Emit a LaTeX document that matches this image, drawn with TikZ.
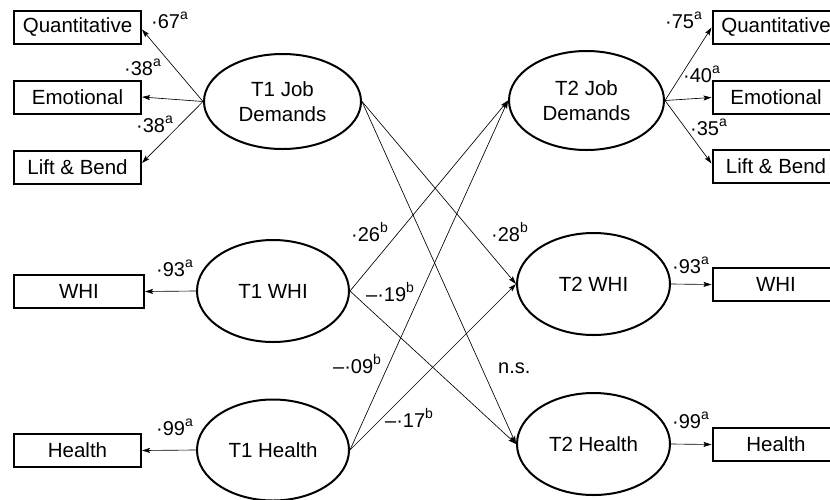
\documentclass[tikz,border=0pt]{standalone}
\usepackage{fontspec}
\setmainfont{Liberation Sans}
\usetikzlibrary{shapes.geometric,arrows.meta}
\newcommand\coefsup[2]{#1\raisebox{0.42em}{\fontsize{14}{14}\selectfont #2}}
\begin{document}
\begin{tikzpicture}[x=1pt,y=-1pt,
  obsbox/.style={draw, line width=2pt, minimum width=127pt, minimum height=33pt, inner sep=0pt, font=\fontsize{20.5}{25}\selectfont},
  latent/.style={draw, ellipse, line width=2pt, inner sep=0pt, align=center, font=\fontsize{20.5}{25}\selectfont},
  conn/.style={line width=0.65pt, -{Stealth[length=8pt,width=5pt,inset=1.5pt]}},
  coef/.style={font=\fontsize{20}{24}\selectfont, anchor=base west, inner sep=0pt}]
\useasboundingbox (0,0) rectangle (830,499);
\clip (0,0) rectangle (830,499);
% left observed
\node[obsbox] (LQ) at (77.5,27.5) {Quantitative};
\node[obsbox] (LE) at (77.5,97) {Emotional};
\node[obsbox] (LL) at (77.5,167) {Lift \& Bend};
\node[obsbox, minimum width=130pt] (LW) at (79,291.5) {WHI};
\node[obsbox] (LH) at (77.5,450.5) {Health};
% right observed
\node[obsbox] (RQ) at (776,27.5) {Quantitative};
\node[obsbox] (RE) at (776,97.5) {Emotional\hspace{12pt}};
\node[obsbox] (RL) at (776,166.5) {Lift \& Bend\hspace{12pt}};
\node[obsbox] (RW) at (776,284.5) {WHI};
\node[obsbox] (RH) at (776,444.5) {Health\hspace{6pt}};
% latent
\node[latent, minimum width=157pt, minimum height=95pt] (J1) at (282.5,101.5) {T1 Job\\Demands};
\node[latent, minimum width=152pt, minimum height=102pt] (W1) at (273,291) {T1 WHI};
\node[latent, minimum width=152pt, minimum height=101pt] (H1) at (273,450) {T1 Health};
\node[latent, minimum width=155pt, minimum height=99pt] (J2) at (586.5,100.5) {T2 Job\\Demands};
\node[latent, minimum width=153pt, minimum height=102pt] (W2) at (593.5,284) {T2 WHI};
\node[latent, minimum width=153pt, minimum height=102pt] (H2) at (593.5,444) {T2 Health};
% measurement paths left
\draw[conn] (J1.west) -- ([yshift=-2pt]LQ.east);
\draw[conn] (J1.west) -- (LE.east);
\draw[conn] (J1.west) -- ([yshift=4pt]LL.east);
\draw[conn] (W1.west) -- (LW.east);
\draw[conn] (H1.west) -- (LH.east);
% measurement paths right
\draw[conn] (J2.east) -- (RQ.west);
\draw[conn] (J2.east) -- (RE.west);
\draw[conn] (J2.east) -- ([yshift=3pt]RL.west);
\draw[conn] (W2.east) -- (RW.west);
\draw[conn] (H2.east) -- (RH.west);
% structural paths
\draw[conn] (J1.east) -- (W2.west);
\draw[conn] (J1.east) -- (H2.west);
\draw[conn] (W1.east) -- (J2.west);
\draw[conn] (W1.east) -- (H2.west);
\draw[conn] (H1.east) -- (J2.west);
\draw[conn] (H1.east) -- (W2.west);
% coefficients
\node[coef] (c1) at (151,28) {\coefsup{·67}{a}};
\node[coef] (c2) at (124,75) {\coefsup{·38}{a}};
\node[coef] (c3) at (136,132) {\coefsup{·38}{a}};
\node[coef] (c4) at (156,276) {\coefsup{·93}{a}};
\node[coef] (c5) at (156,435) {\coefsup{·99}{a}};
\node[coef] (c6) at (351,241) {\coefsup{·26}{b}};
\node[coef] (c7) at (366,301) {\coefsup{–·19}{b}};
\node[coef] (c8) at (491,241) {\coefsup{·28}{b}};
\node[coef] (c9) at (333,373) {\coefsup{–·09}{b}};
\node[coef] (c10) at (385,427) {\coefsup{–·17}{b}};
\node[coef] (c11) at (498,373) {n.s.};
\node[coef] (c12) at (665,28) {\coefsup{·75}{a}};
\node[coef] (c13) at (683,82) {\coefsup{·40}{a}};
\node[coef] (c14) at (690,135) {\coefsup{·35}{a}};
\node[coef] (c15) at (672,273) {\coefsup{·93}{a}};
\node[coef] (c16) at (672,428) {\coefsup{·99}{a}};
\end{tikzpicture}
\end{document}
